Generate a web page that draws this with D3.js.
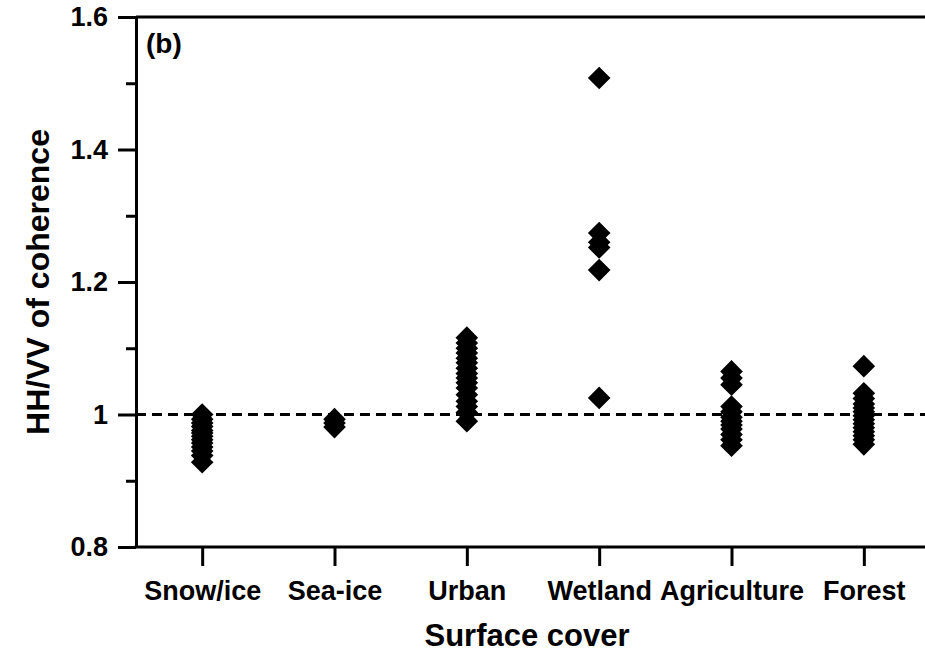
<!DOCTYPE html>
<html>
<head>
<meta charset="utf-8">
<title>HH/VV of coherence</title>
<style>
  body { margin: 0; background: #fff; }
  text { font-family: "Liberation Sans", Arial, sans-serif; font-weight: bold; fill: #000; }
</style>
</head>
<body>
<script src="https://d3js.org/d3.v7.min.js"></script>
<script>
// categories and values
var categories = ["Snow/ice", "Sea-ice", "Urban", "Wetland", "Agriculture", "Forest"];

var snowIce = [1.000, 0.993, 0.987, 0.982, 0.976, 0.972, 0.967, 0.962, 0.957, 0.951, 0.945, 0.938, 0.928];
var seaIce = [0.993, 0.987, 0.981];
var urban = [1.116, 1.108, 1.100, 1.093, 1.085, 1.078, 1.070, 1.062, 1.055, 1.048, 1.040, 1.030, 1.020, 1.012, 1.003, 0.990];
var wetland = [1.508, 1.274, 1.260, 1.252, 1.218, 1.025];
var agriculture = [1.065, 1.055, 1.045, 1.012, 1.004, 0.996, 0.990, 0.984, 0.978, 0.970, 0.962, 0.953];
var forest = [1.073, 1.032, 1.024, 1.016, 1.010, 1.004, 0.998, 0.992, 0.986, 0.980, 0.974, 0.968, 0.962, 0.955];

var yTicks = [0.8, 1.0, 1.2, 1.4, 1.6];
var yTickLabels = ["0.8", "1", "1.2", "1.4", "1.6"];
var yMinorTicks = [0.9, 1.1, 1.3, 1.5];
var refValue = 1.0;

var seriesList = [snowIce, seaIce, urban, wetland, agriculture, forest];
var points = [];
seriesList.forEach(function(vals, i) {
  vals.forEach(function(v) { points.push({cat: categories[i], value: v}); });
});

var W = 925, H = 655;
var margin = {top: 17, left: 136, bottom: 108};

var svg = d3.select("body").append("svg")
    .attr("width", W)
    .attr("height", H);

var x = d3.scalePoint()
    .domain(categories)
    .range([margin.left, 930])
    .padding(0.5);

var y = d3.scaleLinear()
    .domain([0.8, 1.6])
    .range([H - margin.bottom, margin.top]);

// dashed reference line at 1
svg.append("line")
    .attr("x1", margin.left).attr("x2", W)
    .attr("y1", y(refValue)).attr("y2", y(refValue))
    .attr("stroke", "#000")
    .attr("stroke-width", 3)
    .attr("stroke-dasharray", "10,6");

// diamonds
svg.append("g").selectAll("path")
    .data(points)
    .enter()
    .append("path")
    .attr("d", d3.symbol(d3.symbolSquare, 256))
    .attr("transform", function(d) { return "translate(" + x(d.cat) + "," + y(d.value) + ") rotate(45)"; })
    .attr("fill", "#000");

// top frame
svg.append("line")
    .attr("x1", margin.left).attr("x2", W)
    .attr("y1", y(1.6)).attr("y2", y(1.6))
    .attr("stroke", "#000")
    .attr("stroke-width", 3);

// y axis
var yAxis = svg.append("g")
    .attr("transform", "translate(" + margin.left + ",0)")
    .call(d3.axisLeft(y)
        .tickValues(yTicks)
        .tickFormat(function(d, i) { return yTickLabels[i]; })
        .tickSizeInner(18)
        .tickSizeOuter(0)
        .tickPadding(10));

svg.append("g")
    .attr("transform", "translate(" + margin.left + ",0)")
    .call(d3.axisLeft(y)
        .tickValues(yMinorTicks)
        .tickFormat("")
        .tickSizeInner(10)
        .tickSizeOuter(0))
    .select(".domain").remove();

// x axis
var xAxis = svg.append("g")
    .attr("transform", "translate(0," + y(0.8) + ")")
    .call(d3.axisBottom(x)
        .tickSizeInner(19)
        .tickSizeOuter(0)
        .tickPadding(15));

svg.selectAll(".domain, .tick line")
    .attr("stroke", "#000")
    .attr("stroke-width", 3);

xAxis.select(".domain").attr("d", "M" + (margin.left - 1.5) + ",0H" + W);

svg.selectAll(".tick text")
    .attr("font-size", "27px")
    .attr("font-family", "Liberation Sans, Arial, sans-serif")
    .attr("font-weight", "bold")
    .attr("fill", "#000");

// axis titles
svg.append("text")
    .attr("x", (margin.left + 930) / 2 - 6)
    .attr("y", 646)
    .attr("text-anchor", "middle")
    .attr("font-size", "31px")
    .text("Surface cover");

svg.append("text")
    .attr("transform", "translate(49," + ((y(0.8) + y(1.6)) / 2) + ") rotate(-90)")
    .attr("text-anchor", "middle")
    .attr("font-size", "32px")
    .text("HH/VV of coherence");

// panel label
svg.append("text")
    .attr("x", 146)
    .attr("y", 53)
    .attr("font-size", "28px")
    .text("(b)");
</script>
</body>
</html>
